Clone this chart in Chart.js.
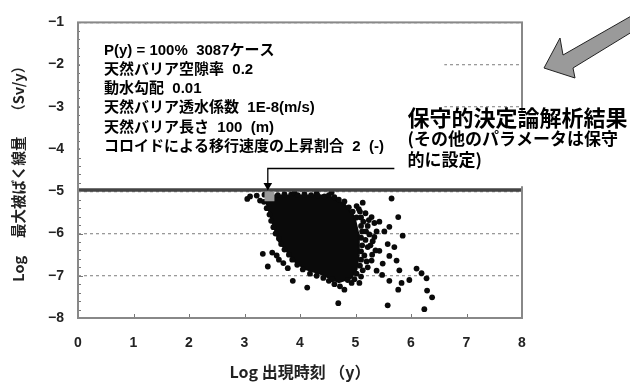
<!DOCTYPE html>
<html lang="ja">
<head>
<meta charset="UTF-8">
<title>保守的決定論解析結果</title>
<style>
  html, body { margin: 0; padding: 0; background: #fff; }
</style>
</head>
<body>
<canvas id="chart" width="630" height="383"></canvas>
<script src="https://cdn.jsdelivr.net/npm/chart.js"></script>
<script>
// axes
const xRange = [0, 8];
const yRange = [-8, -1];

// dense core of the 3087 cases (outline)
const coreTop = [[3.38, -5.20], [3.42, -5.10], [4.50, -5.10], [4.80, -5.30], [4.98, -5.60], [5.05, -6.00], [5.06, -6.50]];
const coreBottom = [[3.38, -5.20], [3.45, -5.50], [3.52, -5.80], [3.62, -6.18], [3.80, -6.48], [3.92, -6.68],
                    [4.10, -6.84], [4.36, -6.95], [4.70, -7.15], [4.92, -7.05], [5.02, -6.85], [5.06, -6.50]];

// individual cases around the core
const cases = [
  // top edge
  [3.36, -5.08], [3.48, -5.07], [3.60, -5.09], [3.72, -5.07], [3.84, -5.08], [3.90, -5.04], [3.96, -5.09],
  [4.08, -5.07], [4.20, -5.09], [4.30, -5.05], [4.32, -5.10], [4.44, -5.12], [4.52, -5.09], [4.62, -5.14],
  [4.70, -5.20], [4.80, -5.24], [4.88, -5.38], [4.95, -5.48], [5.02, -5.62], [4.57, -5.03],
  // left side
  [3.05, -5.18], [3.10, -5.12], [3.22, -5.10], [3.28, -5.22],
  [3.35, -5.25], [3.40, -5.40], [3.45, -5.55], [3.48, -5.70], [3.52, -5.85], [3.56, -6.00], [3.62, -6.12],
  [3.66, -6.25], [3.72, -6.38], [3.80, -6.50], [3.86, -6.62], [3.95, -6.74], [4.05, -6.85], [4.18, -6.95],
  [4.30, -7.00], [4.42, -7.05], [4.52, -7.12], [4.62, -7.20], [4.72, -7.25], [4.80, -7.33], [4.93, -7.17],
  [5.07, -7.17], [4.86, -7.10], [4.58, -7.08],
  [3.33, -6.48], [3.42, -6.78], [3.50, -6.45], [3.58, -6.52], [3.87, -7.12], [4.13, -7.28], [3.70, -6.70],
  [3.78, -6.82], [3.62, -6.62], [4.69, -7.65],
  // dense band right of the core
  [5.02, -5.35], [5.13, -5.27], [5.08, -5.48], [5.18, -5.52], [5.29, -5.61], [5.10, -5.62], [5.14, -5.72],
  [5.43, -5.72], [5.10, -5.82], [5.22, -5.82], [5.38, -5.95], [5.12, -5.95], [5.25, -6.02], [5.10, -6.10],
  [5.18, -6.15], [5.31, -6.18], [5.12, -6.28], [5.22, -6.32], [5.43, -6.41], [5.10, -6.42], [5.16, -6.52],
  [5.30, -6.50], [5.10, -6.62], [5.20, -6.66], [5.29, -6.64], [5.08, -6.76], [5.13, -6.87], [5.22, -6.80],
  [5.02, -6.95], [5.10, -7.02], [4.98, -7.08], [5.34, -5.75], [5.27, -6.28], [5.36, -6.40], [5.19, -5.95],
  [5.24, -5.68], [5.06, -5.42], [5.34, -6.08],
  // scattered cases
  [5.65, -5.17], [5.77, -5.61], [5.85, -6.05], [5.61, -5.84], [5.58, -6.25], [5.70, -6.32], [5.61, -6.53],
  [5.74, -6.64], [5.49, -6.71], [5.79, -6.87], [6.10, -6.83], [6.19, -6.94], [6.28, -7.06], [5.97, -7.10],
  [5.83, -7.17], [5.77, -7.33], [5.61, -7.12], [6.29, -7.35], [6.38, -7.51], [5.58, -7.70], [6.24, -7.79],
  [5.38, -6.88], [5.48, -6.98], [5.52, -5.95]
];

// deterministic (conservative) result and the -5 reference line
const detPoint = [[3.45, -5.12]];
const limitLine = [[0, -4.97], [8, -4.97]];
const pointerLine = [[5.70, -4.46], [3.42, -4.46], [3.42, -4.86]];
const pointerHead = [[3.42, -4.86]];

const noteLines = [
  'P(y) = 100%  3087ケース',
  '天然バリア空隙率  0.2',
  '動水勾配  0.01',
  '天然バリア透水係数  1E-8(m/s)',
  '天然バリア長さ  100  (m)',
  'コロイドによる移行速度の上昇割合  2  (-)'
];
const resultTitle = '保守的決定論解析結果';
const resultSub = ['(その他のパラメータは保守', '的に設定)'];

const toXY = arr => arr.map(p => ({x: p[0], y: p[1]}));
const minus = v => (v < 0 ? '\u2212' + Math.abs(v) : String(v));

const decor = {
  id: 'decor',
  afterDatasetsDraw(chart) {
    const {ctx, chartArea: a, scales: {x, y}} = chart;
    ctx.save();

    // minor ticks on the left axis and small ticks on the bottom axis
    ctx.strokeStyle = '#777';
    ctx.lineWidth = 1;
    for (let i = 0; i <= 35; i++) {
      const py = Math.round(y.getPixelForValue(-8 + i * 0.2)) + 0.5;
      const len = i % 5 === 0 ? 5 : 3;
      ctx.beginPath(); ctx.moveTo(a.left, py); ctx.lineTo(a.left + len, py); ctx.stroke();
    }
    for (let v = 1; v < 8; v++) {
      const px = Math.round(x.getPixelForValue(v)) + 0.5;
      ctx.beginPath(); ctx.moveTo(px, a.bottom); ctx.lineTo(px, a.bottom - 4); ctx.stroke();
    }

    // frame
    ctx.strokeStyle = '#888';
    ctx.lineWidth = 2;
    ctx.strokeRect(a.left, a.top, a.width, a.height);

    // white boxes behind the notes
    ctx.fillStyle = '#fff';
    ctx.fillRect(a.left + 2, a.top + 2, x.getPixelForValue(6.6) - a.left - 2, y.getPixelForValue(-4.2) - a.top - 2);
    ctx.fillRect(x.getPixelForValue(5.9), y.getPixelForValue(-3.1), chart.width, y.getPixelForValue(-4.88) - y.getPixelForValue(-3.1));

    // parameter notes
    ctx.fillStyle = '#000';
    ctx.textBaseline = 'middle';
    ctx.font = 'bold 15px "Liberation Sans", "Noto Sans CJK JP"';
    noteLines.forEach((t, i) => ctx.fillText(t, a.left + 26, a.top + 28 + i * 19.3));

    // result label
    const rx = x.getPixelForValue(5.9) + 2;
    ctx.font = 'bold 22px "Noto Sans CJK JP"';
    ctx.fillText(resultTitle, rx, 118);
    ctx.font = 'bold 17px "Noto Sans CJK JP"';
    resultSub.forEach((t, i) => ctx.fillText(t, rx, 139 + i * 21));

    // big grey arrow
    ctx.beginPath();
    ctx.moveTo(544, 68);
    ctx.lineTo(560, 38);
    ctx.lineTo(563, 55);
    ctx.lineTo(640, 11);
    ctx.lineTo(640, 27);
    ctx.lineTo(573, 68);
    ctx.lineTo(575, 78);
    ctx.closePath();
    ctx.fillStyle = '#9a9a9a';
    ctx.fill();
    ctx.strokeStyle = '#222';
    ctx.lineWidth = 1;
    ctx.stroke();
    ctx.restore();
  }
};

const tickFont = {family: '"Liberation Sans", Arial, sans-serif', size: 14, weight: 'bold'};

new Chart(document.getElementById('chart'), {
  type: 'scatter',
  data: {
    datasets: [
      {data: toXY(detPoint), pointStyle: 'rect', pointRadius: 7, backgroundColor: '#9a9a9a', borderWidth: 0},
      {data: toXY(pointerHead), pointStyle: 'triangle', rotation: 180, pointRadius: 5, backgroundColor: '#000', borderWidth: 0},
      {data: toXY(pointerLine), showLine: true, pointRadius: 0, borderColor: '#000', borderWidth: 1.3},
      {data: toXY(limitLine), showLine: true, pointRadius: 0, borderColor: '#444', borderWidth: 3.5},
      {data: toXY(cases), pointStyle: 'circle', pointRadius: 2.9, backgroundColor: '#0a0a0a', borderWidth: 0},
      {data: toXY(coreTop), showLine: true, pointRadius: 0, borderColor: '#0a0a0a', borderWidth: 2,
       backgroundColor: '#0a0a0a', fill: '+1'},
      {data: toXY(coreBottom), showLine: true, pointRadius: 0, borderColor: '#0a0a0a', borderWidth: 2}
    ]
  },
  options: {
    responsive: false,
    animation: false,
    devicePixelRatio: 1,
    layout: {padding: {top: 13, right: 108, left: 0, bottom: 0}},
    plugins: {legend: {display: false}, tooltip: {enabled: false}},
    scales: {
      x: {
        min: xRange[0], max: xRange[1],
        ticks: {stepSize: 1, padding: 17, color: '#222', font: tickFont},
        grid: {display: false, drawTicks: false},
        border: {display: false},
        title: {display: true, text: 'Log 出現時刻 （y）', color: '#222',
                font: {family: '"Noto Sans CJK JP"', size: 16, weight: 'bold'}, padding: {top: 0, bottom: 1}},
        afterFit: s => { s.height = 65; }
      },
      y: {
        min: yRange[0], max: yRange[1],
        ticks: {stepSize: 1, padding: 14, color: '#222', font: tickFont, callback: minus},
        grid: {color: '#9a9a9a', lineWidth: 1.3, drawTicks: false},
        border: {display: false, dash: [3, 3]},
        title: {display: true, text: 'Log\u3000 最大被ばく線量\u3000 （Sv/y）', color: '#222',
                font: {family: '"Noto Sans CJK JP"', size: 14.5, weight: 'bold'}, padding: {top: 10, bottom: 0}},
        afterFit: s => { s.width = 78; }
      }
    }
  },
  plugins: [decor]
});
</script>
</body>
</html>
